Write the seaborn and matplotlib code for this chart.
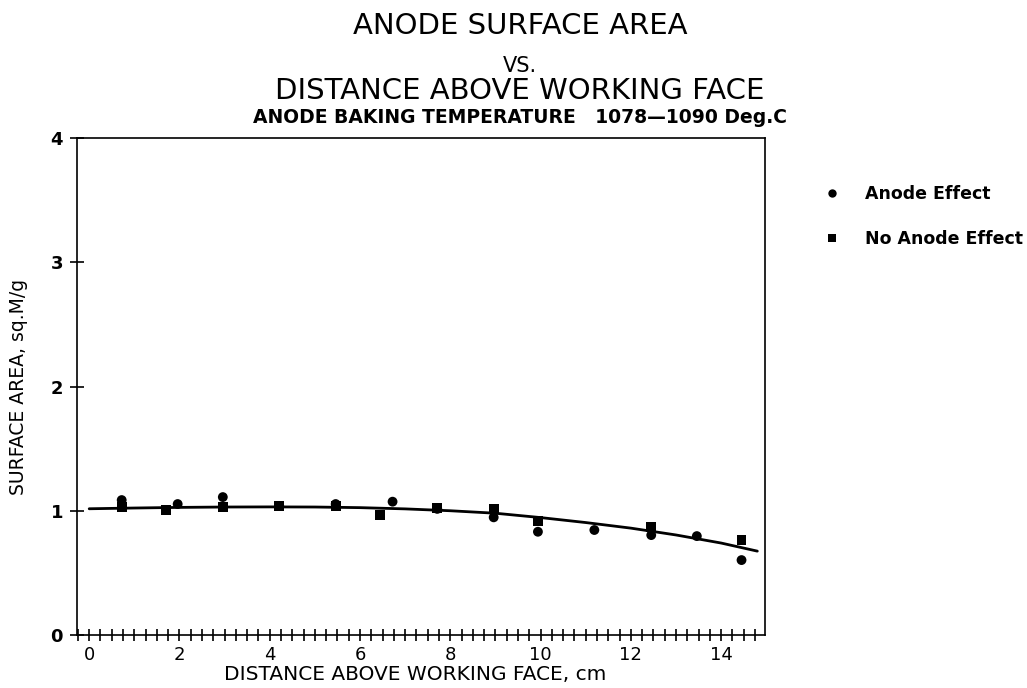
import numpy as np
import pandas as pd
import matplotlib
matplotlib.use("Agg")
import matplotlib.pyplot as plt
import seaborn as sns
from matplotlib.ticker import MultipleLocator

# ---- data ----
anode_x = [0.72, 1.96, 2.96, 4.21, 5.46, 6.72, 7.71, 8.96, 9.94, 11.19, 12.45, 13.46, 14.45]
anode_y = [1.086, 1.054, 1.11, 1.038, 1.054, 1.073, 1.015, 0.947, 0.831, 0.845, 0.804, 0.796, 0.603]
noanode_x = [0.72, 1.70, 2.96, 4.21, 5.46, 6.45, 7.71, 8.96, 9.94, 12.45, 14.45]
noanode_y = [1.03, 1.006, 1.027, 1.035, 1.04, 0.965, 1.019, 1.011, 0.92, 0.866, 0.764]
# fitted trend curve
curve_x = [0.0, 1.0, 2.0, 3.0, 4.0, 5.0, 6.0, 7.0, 8.0, 9.0, 10.0, 11.0, 12.0, 13.0, 14.0, 14.8]
curve_y = [1.016, 1.022, 1.027, 1.03, 1.031, 1.03, 1.025, 1.015, 1.0, 0.98, 0.945, 0.905, 0.86, 0.805, 0.74, 0.675]
series_names = ["Anode Effect", "No Anode Effect"]
x_ticks = [0, 2, 4, 6, 8, 10, 12, 14]
y_ticks = [0, 1, 2, 3, 4]

df = pd.DataFrame({
    "x": anode_x + noanode_x,
    "y": anode_y + noanode_y,
    "series": [series_names[0]] * len(anode_x) + [series_names[1]] * len(noanode_x),
})
curve = pd.DataFrame({"x": curve_x, "y": curve_y})

sns.set_style("ticks")
plt.rcParams["font.family"] = ["DejaVu Sans"]
plt.rcParams["text.color"] = "black"

W, H = 1027, 688
fig = plt.figure(figsize=(W / 100, H / 100), dpi=100)
ax = fig.add_axes([77 / W, 53 / H, (765 - 77) / W, (635 - 138) / H])

sns.lineplot(data=curve, x="x", y="y", color="black", linewidth=2.0, sort=False,
             estimator=None, ax=ax, legend=False)

sns.scatterplot(data=df, x="x", y="y", style="series",
                markers={series_names[0]: "o", series_names[1]: "s"},
                color="black", edgecolor="black", linewidth=0, s=50, ax=ax, zorder=3)

ax.set_xlim(-0.27, 14.97)
ax.set_ylim(0, 4)
ax.set_xticks(x_ticks)
ax.set_xticklabels([str(t) for t in x_ticks])
ax.set_yticks(y_ticks)
ax.set_yticklabels([str(t) for t in y_ticks], fontweight="bold")
ax.xaxis.set_minor_locator(MultipleLocator(0.25))

for s in ax.spines.values():
    s.set_visible(True)
    s.set_linewidth(1.2)
    s.set_color("black")

ax.tick_params(axis="x", which="both", direction="inout", length=8, width=1.2,
               labelsize=13, pad=4, colors="black")
ax.tick_params(axis="y", which="major", direction="inout", length=10, width=1.2,
               labelsize=13, pad=5, colors="black")

ax.set_xlabel("DISTANCE ABOVE WORKING FACE, cm", fontsize=14.5, color="black")
ax.xaxis.label.set_va("baseline")
ax.xaxis.set_label_coords((415 - 77) / 688, -(680 - 635) / 497)
ax.set_ylabel("SURFACE AREA, sq.M/g", fontsize=13.5, labelpad=16, color="black")

# titles
cx = 520 / W
fig.text(cx, 1 - 34 / H, "ANODE SURFACE AREA", ha="center", va="baseline", fontsize=21, color="black")
fig.text(cx, 1 - 72 / H, "VS.", ha="center", va="baseline", fontsize=15, color="black")
fig.text(cx, 1 - 99 / H, "DISTANCE ABOVE WORKING FACE", ha="center", va="baseline", fontsize=21,
         color="black")
fig.text(cx, 1 - 123 / H, "ANODE BAKING TEMPERATURE   1078\u20141090 Deg.C", ha="center", va="baseline",
         fontsize=13.5, fontweight="bold", color="black")

leg = ax.legend(loc="upper left", bbox_to_anchor=(806 / W, 1 - 176 / H), bbox_transform=fig.transFigure,
                frameon=False, fontsize=12.5, labelspacing=1.55, handletextpad=0.9, borderpad=0,
                markerscale=0.85)
for t in leg.get_texts():
    t.set_fontweight("bold")
    t.set_color("black")

fig.savefig("out.png", dpi=100)
